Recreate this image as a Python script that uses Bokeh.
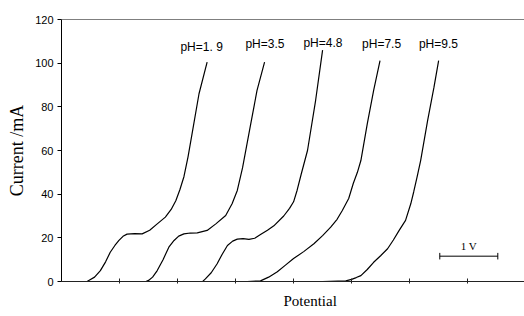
from bokeh.plotting import figure
from bokeh.models import Range1d, Span, Title, FixedTicker, ColumnDataSource
from bokeh.core.properties import value
from bokeh.embed import file_html
from bokeh.resources import INLINE

# ---- data (potential in V, current in mA) ----
c1_x = [0.0, 0.15, 0.29, 0.4, 0.47, 0.57, 0.67, 0.76, 0.84, 0.92, 0.99, 1.06, 1.13, 1.26, 1.39, 1.52, 1.65, 1.79, 1.89, 1.97, 2.04, 2.11, 2.18, 2.25, 2.37, 2.51]
c1_y = [0, -0.5, -0.9, -0.6, 0.5, 2, 5, 9, 13.4, 16.5, 18.8, 20.7, 21.7, 21.9, 21.8, 23.5, 26.4, 29.5, 33, 37, 42, 48, 57, 67.6, 86, 100.5]
c2_x = [1.0, 1.15, 1.31, 1.42, 1.5, 1.57, 1.65, 1.75, 1.85, 1.94, 2.02, 2.11, 2.22, 2.34, 2.51, 2.66, 2.83, 2.94, 3.03, 3.12, 3.26, 3.37, 3.5]
c2_y = [0, -0.4, -0.8, -0.5, 0.5, 2, 5, 10, 15.7, 18.8, 20.8, 21.8, 22.2, 22.3, 23.4, 26.4, 30.2, 35.6, 41.7, 52, 72, 87.5, 100.5]
c3_x = [2.0, 2.15, 2.32, 2.42, 2.48, 2.58, 2.68, 2.77, 2.86, 2.95, 3.03, 3.13, 3.23, 3.33, 3.43, 3.55, 3.66, 3.83, 3.93, 4.0, 4.06, 4.13, 4.24, 4.38, 4.5]
c3_y = [0, -0.3, -0.7, -0.3, 1.2, 4, 8, 12.5, 16.5, 18.5, 19.4, 19.6, 19.3, 19.8, 21.5, 23.5, 25.5, 30, 33.5, 36.5, 41.7, 49, 60, 83, 106]
c4_x = [3.0, 3.2, 3.43, 3.57, 3.72, 3.86, 4.0, 4.18, 4.35, 4.5, 4.64, 4.75, 4.84, 4.95, 5.03, 5.1, 5.16, 5.27, 5.38, 5.49]
c4_y = [0, 0, 0.3, 2, 4.5, 7.5, 10.5, 13.8, 17.3, 21, 24.9, 28.5, 32.5, 38, 45, 50, 55.4, 72.2, 87.5, 101.2]
c5_x = [4.0, 4.5, 4.9, 5.0, 5.08, 5.16, 5.27, 5.38, 5.5, 5.62, 5.72, 5.82, 5.93, 6.02, 6.07, 6.13, 6.19, 6.31, 6.42, 6.5]
c5_y = [0, 0, 0.3, 1.0, 1.8, 2.7, 5.5, 8.8, 11.8, 15, 19, 23.4, 28, 35.6, 41, 48, 55.4, 73.7, 89, 101.2]

labels = ["pH=1. 9", "pH=3.5", "pH=4.8", "pH=7.5", "pH=9.5"]
label_x = [2.05, 3.17, 4.17, 5.18, 6.16]
label_y = [107.6, 108.6, 109.2, 108.6, 108.6]

scale_x0, scale_x1, scale_y = 6.52, 7.52, 11.6
scale_text = "1 V"

y_ticks = [0, 20, 40, 60, 80, 100, 120]
x_ticks = [1, 2, 3, 4, 5, 6, 7]

p = figure(width=524, height=316, output_backend="svg", toolbar_location=None,
           x_range=Range1d(0, 7.98), y_range=Range1d(0, 120),
           min_border_left=61, min_border_right=0, min_border_top=19, min_border_bottom=35)
p.outline_line_color = None
p.xgrid.visible = False
p.ygrid.visible = False
p.background_fill_color = "white"
p.border_fill_color = "white"

for xs, ys in [(c1_x, c1_y), (c2_x, c2_y), (c3_x, c3_y), (c4_x, c4_y), (c5_x, c5_y)]:
    p.line(xs, ys, line_color="black", line_width=1.2)

# labels
src = ColumnDataSource(dict(x=label_x, y=label_y, t=labels))
p.text(x="x", y="y", text="t", source=src, text_font=value("Liberation Sans"),
       text_font_size="12px", text_baseline="middle", text_align="left", text_color="black")

# scale bar
p.segment(x0=[scale_x0], y0=[scale_y], x1=[scale_x1], y1=[scale_y], line_color="black", line_width=1)
p.segment(x0=[scale_x0, scale_x1], y0=[scale_y - 1.5, scale_y - 1.5],
          x1=[scale_x0, scale_x1], y1=[scale_y + 1.5, scale_y + 1.5], line_color="black", line_width=1)
p.text(x=[(scale_x0 + scale_x1) / 2], y=[scale_y + 4.5], text=[scale_text],
       text_font=value("Liberation Serif"), text_font_size="11px",
       text_align="center", text_baseline="middle", text_color="black")

# top border
p.add_layout(Span(location=120, dimension="width", line_color="black", line_width=1))

# y axis
p.yaxis.ticker = FixedTicker(ticks=y_ticks)
p.yaxis.major_tick_in = 0
p.yaxis.major_tick_out = 4
p.yaxis.minor_tick_line_color = None
p.yaxis.major_label_text_font = "Liberation Sans"
p.yaxis.major_label_text_font_size = "11px"
p.yaxis.major_label_text_color = "black"
p.yaxis.major_label_standoff = 4
p.yaxis.axis_line_color = "black"
p.yaxis.major_tick_line_color = "black"
p.yaxis.axis_label = "Current /mA"
p.yaxis.axis_label_text_font = "Liberation Serif"
p.yaxis.axis_label_text_font_style = "normal"
p.yaxis.axis_label_text_font_size = "18px"
p.yaxis.axis_label_text_color = "black"
p.yaxis.axis_label_standoff = 5

# x axis
p.xaxis.ticker = FixedTicker(ticks=x_ticks)
p.xaxis.major_tick_in = 3
p.xaxis.major_tick_out = 2
p.xaxis.minor_tick_line_color = None
p.xaxis.major_label_overrides = {t: "" for t in x_ticks}
p.xaxis.major_label_standoff = 0
p.xaxis.axis_line_color = "#222222"
p.xaxis.major_tick_line_color = "#222222"

p.add_layout(Title(text="Potential", align="left", offset=222, text_font="Liberation Serif",
                   text_font_size="15px", text_font_style="normal", text_color="black",
                   vertical_align="bottom", text_baseline="middle", standoff=14), "below")

open("out.html", "w").write(file_html(p, INLINE))
